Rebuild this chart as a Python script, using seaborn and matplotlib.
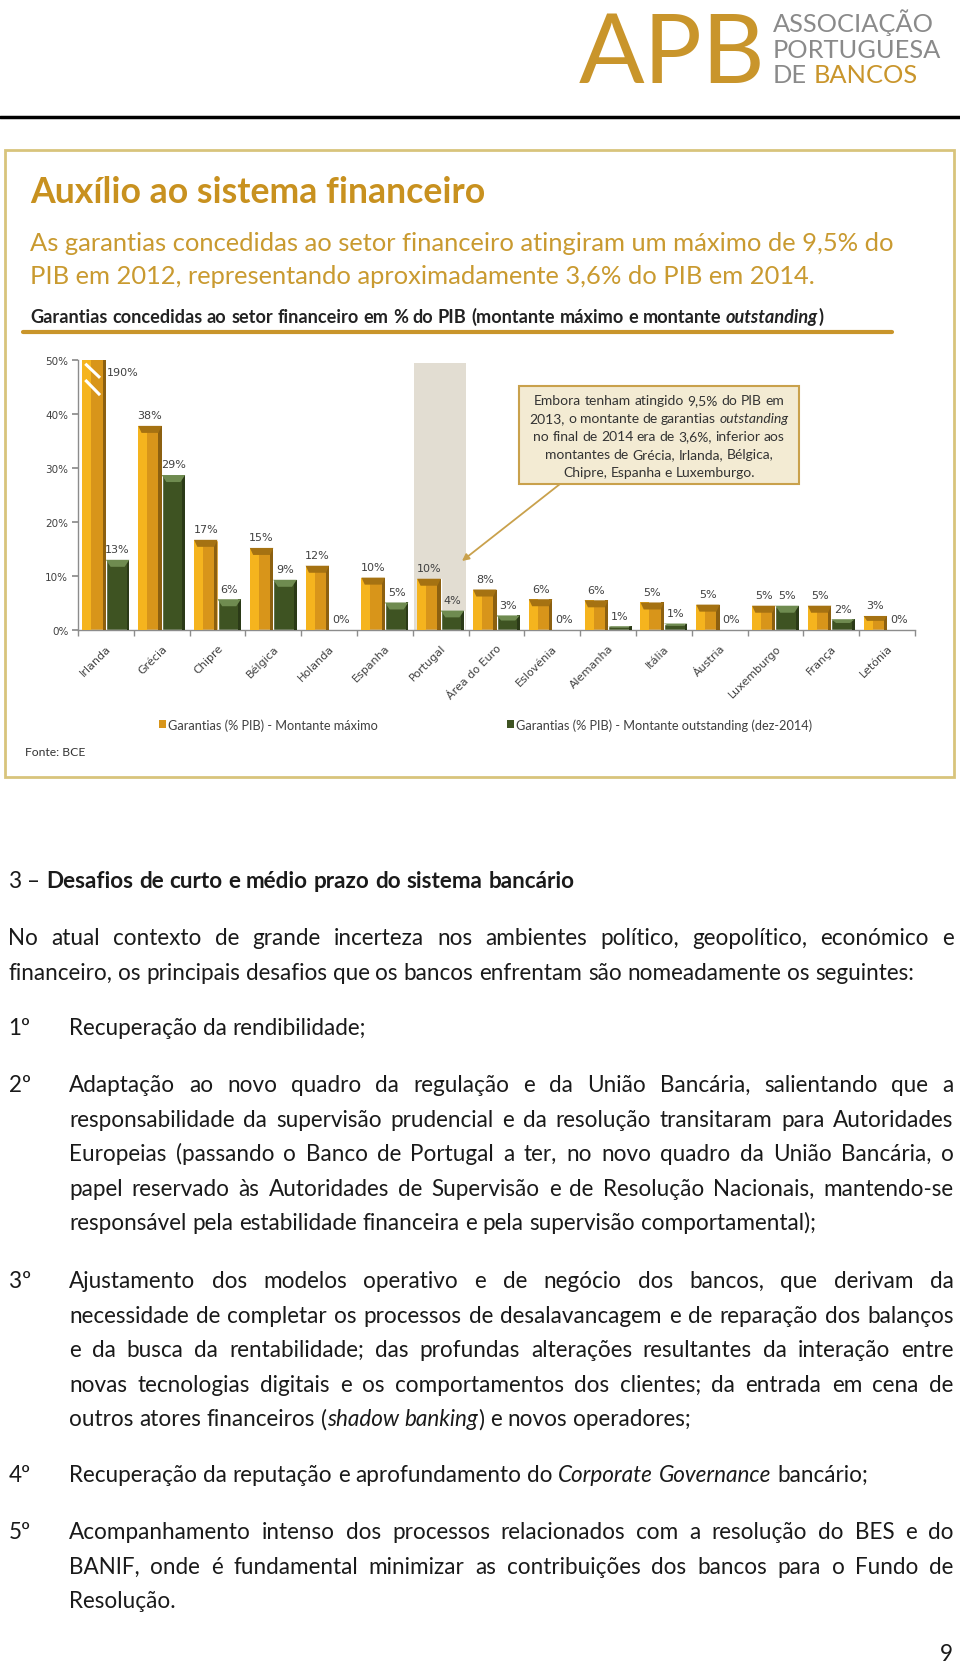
import numpy as np
import pandas as pd
import seaborn as sns
import matplotlib.pyplot as plt
from matplotlib.patches import Rectangle, Polygon

# chart data
paises = ["Irlanda", "Grécia", "Chipre", "Bélgica", "Holanda", "Espanha", "Portugal",
          "Área do Euro", "Eslovénia", "Alemanha", "Itália", "Áustria", "Luxemburgo",
          "França", "Letónia"]
montante_max = [190, 37.8, 16.7, 15.2, 11.9, 9.7, 9.5, 7.5, 5.7, 5.5, 5.1, 4.7, 4.5, 4.5, 2.6]
montante_out = [13.0, 28.7, 5.7, 9.3, 0, 5.1, 3.6, 2.7, 0, 0.7, 1.2, 0, 4.5, 2.0, 0]
series = ["Garantias (% PIB) - Montante máximo",
          "Garantias (% PIB) - Montante outstanding (dez-2014)"]
y_ticks = [0, 10, 20, 30, 40, 50]

GOLD = "#d8951a"
GOLD_LIGHT = "#f5b41e"
GOLD_DARK = "#8c6010"
GREEN = "#3e5322"
GREEN_LIGHT = "#6f8b50"
TXT_GOLD = "#c8911f"
BODY = "Lato"

sns.set_theme(style="white")
plt.rcParams["font.family"] = [BODY, "DejaVu Sans"]

fig = plt.figure(figsize=(9.6, 16.65), dpi=100)
renderer = fig.canvas.get_renderer()

# page overlay in pixel coordinates (y downwards)
page = fig.add_axes([0, 0, 1, 1], zorder=5)
page.set_xlim(0, 960)
page.set_ylim(1665, 0)
page.axis("off")
page.patch.set_alpha(0)


def tokens(parts):
    words = [[]]
    for txt, st in parts:
        for i, p in enumerate(txt.split(" ")):
            if i > 0:
                words.append([])
            if p:
                words[-1].append((p, st))
    return [w for w in words if w]


def width(txt, size, **kw):
    t = page.text(0, 0, txt, size=size, **kw)
    w = t.get_window_extent(renderer).width
    t.remove()
    return w


def put(x, y, s, size, ha="left", **kw):
    # y is the visual middle of the line; place on baseline
    page.text(x, y + 0.36 * size * 100 / 72, s, size=size, ha=ha, va="baseline", **kw)


def line(x, y, parts, size, just=None, align="left", color="#1a1a1a", family=BODY):
    words = tokens(parts)
    ws = [sum(width(p, size, family=family, **st) for p, st in w) for w in words]
    gap = width("a a", size, family=family) - width("aa", size, family=family)
    if just is not None and len(words) > 1:
        gap = (just - sum(ws)) / (len(words) - 1)
    total = sum(ws) + gap * (len(words) - 1)
    if align == "center":
        x = x - total / 2
    elif align == "right":
        x = x - total
    for w, wd in zip(words, ws):
        cx = x
        for p, st in w:
            put(cx, y, p, size, family=family, color=color, **st)
            cx += width(p, size, family=family, **st)
        x += wd + gap


def fit(txt, target, **kw):
    return 20 * target / width(txt, 20, **kw)


# ---- logo ----
page.plot([0, 960], [118, 118], color="black", lw=2.5)
s = fit("APB", 186, family=BODY)
page.text(579, 83, "APB", size=s, color="#c9952b", family=BODY, ha="left", va="baseline")
s = fit("PORTUGUESA", 167, family=BODY)
page.text(773, 32, "ASSOCIAÇÃO", size=s, color="#8a8a8a", ha="left", va="baseline")
page.text(773, 58, "PORTUGUESA", size=s, color="#8a8a8a", ha="left", va="baseline")
page.text(773, 83, "DE", size=s, color="#8a8a8a", ha="left", va="baseline")
page.text(773 + width("DE ", s), 83, "BANCOS", size=s, color="#c9952b", ha="left", va="baseline")

# ---- chart frame and header ----
page.add_patch(Rectangle((5, 151), 949, 627, fill=False, ec="#d8c47c", lw=2))
s = fit("Auxílio ao sistema financeiro", 455, weight="bold", family=BODY)
put(30, 190, "Auxílio ao sistema financeiro", s, weight="bold", color=TXT_GOLD)
l1 = "As garantias concedidas ao setor financeiro atingiram um máximo de 9,5% do"
s = fit(l1, 862, family=BODY)
put(30, 242, l1, s, color="#c99a30")
put(30, 275, "PIB em 2012, representando aproximadamente 3,6% do PIB em 2014.", s, color="#c99a30")
sub = "Garantias concedidas ao setor financeiro em % do PIB (montante máximo e montante outstanding)"
s = fit(sub, 790, weight="bold", family=BODY)
line(30, 316, [("Garantias concedidas ao setor financeiro em % do PIB (montante máximo e montante ",
                {"weight": "bold"}),
               ("outstanding", {"weight": "bold", "style": "italic"}),
               (")", {"weight": "bold"})], s, color="#222222")
page.plot([23, 892], [333, 333], color="#c9952a", lw=3)

# ---- bar chart ----
ax = fig.add_axes([78 / 960, 1 - 631 / 1665, (915 - 78) / 960, (631 - 361) / 1665], zorder=1)
df = pd.DataFrame({
    "pais": paises * 2,
    "valor": montante_max + montante_out,
    "serie": [series[0]] * len(paises) + [series[1]] * len(paises),
})
ax.axvspan(paises.index("Portugal") - 0.48, paises.index("Portugal") + 0.45,
           ymax=0.99, color="#e2ddd2", zorder=0, lw=0)
sns.barplot(data=df, x="pais", y="valor", hue="serie", palette=[GOLD, GREEN],
            saturation=1, width=0.84, gap=0, legend=False, ax=ax, zorder=2)
ax.set_ylim(0, 50)
ax.set_xlim(-0.5, len(paises) - 0.5)
ax.patch.set_alpha(0)

# bevel look on each bar
for cont, light, dark in [(ax.containers[0], GOLD_LIGHT, GOLD_DARK),
                          (ax.containers[1], GREEN_LIGHT, "#2b3a17")]:
    for p in cont:
        x0, w, h = p.get_x(), p.get_width(), min(p.get_height(), 50)
        if h <= 0:
            continue
        c = min(1.3, h * 0.35)
        if light == GOLD_LIGHT:
            ax.add_patch(Rectangle((x0, 0), w * 0.38, h, color=light, lw=0, zorder=3))
            ax.add_patch(Rectangle((x0 + w * 0.86, 0), w * 0.14, h, color=dark, lw=0, zorder=3))
            if h < 50:
                ax.add_patch(Polygon([(x0, h), (x0 + w, h), (x0 + w * 0.86, h - c),
                                      (x0 + w * 0.14, h - c)], color="#a57212", lw=0, zorder=4))
        else:
            ax.add_patch(Rectangle((x0 + w * 0.88, 0), w * 0.12, h, color=dark, lw=0, zorder=3))
            ax.add_patch(Polygon([(x0, h), (x0 + w, h), (x0 + w * 0.8, h - c),
                                  (x0 + w * 0.2, h - c)], color=light, lw=0, zorder=4))

# labels
lab_max = ["" if v > 50 else f"{int(v + 0.5)}%" for v in montante_max]
lab_out = [f"{int(v + 0.5)}%" for v in montante_out]
ax.bar_label(ax.containers[0], labels=lab_max, padding=4, fontsize=8,
             color="#404040", family="DejaVu Sans")
ax.bar_label(ax.containers[1], labels=lab_out, padding=4, fontsize=8,
             color="#404040", family="DejaVu Sans")
p0 = ax.containers[0][0]
ax.annotate(f"{montante_max[0]:.0f}%", (p0.get_x() + p0.get_width(), 47.8),
            xytext=(1, 0), textcoords="offset points", ha="left", va="center",
            fontsize=8, color="#404040", family="DejaVu Sans", zorder=6)
# axis break marks on the clipped bar
x0, w = p0.get_x(), p0.get_width()
for ya, yb in [(49.3, 46.7), (46.3, 43.5)]:
    ax.plot([x0 + w * 0.12, x0 + w * 0.75], [ya, yb], color="white", lw=2.2,
            solid_capstyle="butt", zorder=5)

sns.despine(ax=ax)
for sp in ["left", "bottom"]:
    ax.spines[sp].set_color("#8c8c8c")
    ax.spines[sp].set_linewidth(1)
ax.set_yticks(y_ticks)
ax.set_yticklabels([f"{t}%" for t in y_ticks], family="DejaVu Sans", fontsize=7.5, color="#404040")
ax.tick_params(axis="y", length=4, color="#8c8c8c", pad=3, left=True)
ax.set_xticks(range(len(paises)))
ax.set_xticklabels(paises, rotation=45, ha="right", rotation_mode="anchor",
                   family="DejaVu Sans", fontsize=8, color="#404040")
ax.tick_params(axis="x", which="major", length=0, pad=9)
ax.set_xticks(np.arange(-0.5, len(paises)), minor=True)
ax.tick_params(axis="x", which="minor", length=4, color="#8c8c8c", bottom=True)
ax.set_xlabel("")
ax.set_ylabel("")
ax.grid(False)

# callout
page.add_patch(Rectangle((519, 387), 280, 98, fc="#f3ebd3", ec="#c9a14c", lw=1.5))
cs = fit("Embora tenham atingido 9,5% do PIB em", 250, family=BODY)
callout = [
    [("Embora tenham atingido 9,5% do PIB em", {})],
    [("2013,  o montante de garantias ", {}), ("outstanding", {"style": "italic"})],
    [("no final de 2014  era de 3,6%, inferior aos", {})],
    [("montantes de Grécia, Irlanda, Bélgica,", {})],
    [("Chipre, Espanha e Luxemburgo.", {})],
]
for i, parts in enumerate(callout):
    line(659, 400 + i * 18, parts, cs, align="center", color="#333333")
page.annotate("", xy=(462, 562), xytext=(560, 485),
              arrowprops=dict(arrowstyle="-|>", color="#c9a14c", lw=1.3, mutation_scale=10,
                              shrinkA=0, shrinkB=0))

# legend
ls = fit(series[0], 211, family=BODY)
for xs, col, lab in [(159, GOLD, series[0]), (507, GREEN, series[1])]:
    page.add_patch(Rectangle((xs, 721), 7, 8, color=col, lw=0))
    put(xs + 9, 725, lab, ls, color="#404040")
put(25, 752, "Fonte: BCE", ls * 0.95, color="#333333")

# ---- body text ----
R = 953.6
bs = fit("financeiro, os principais desafios que os bancos enfrentam são nomeadamente os seguintes:",
         909.5, family=BODY)
line(8.5, 880, [("3 – ", {}), ("Desafios de curto e médio prazo do sistema bancário", {"weight": "bold"})], bs)
line(8.5, 937, [("No atual contexto de grande incerteza nos ambientes político, geopolítico, económico e", {})],
     bs, just=R - 8.5)
line(8.5, 971.5, [("financeiro, os principais desafios que os bancos enfrentam são nomeadamente os seguintes:", {})], bs)

items = [
    ("1º", 1027, [
        [("Recuperação da rendibilidade;", {})],
    ]),
    ("2º", 1084, [
        [("Adaptação ao novo quadro da regulação e da União Bancária, salientando que a", {})],
        [("responsabilidade da supervisão prudencial e da resolução transitaram para Autoridades", {})],
        [("Europeias (passando o Banco de Portugal a ter, no novo quadro da União Bancária, o", {})],
        [("papel reservado às Autoridades de Supervisão e de Resolução Nacionais, mantendo-se", {})],
        [("responsável pela estabilidade financeira e pela supervisão comportamental);", {})],
    ]),
    ("3º", 1280, [
        [("Ajustamento dos modelos operativo e de negócio dos bancos, que derivam da", {})],
        [("necessidade de completar os processos de desalavancagem e de reparação dos balanços", {})],
        [("e da busca da rentabilidade; das profundas alterações resultantes da interação entre", {})],
        [("novas tecnologias digitais e os comportamentos dos clientes; da entrada em cena de", {})],
        [("outros atores financeiros (", {}), ("shadow banking", {"style": "italic"}),
         (") e novos operadores;", {})],
    ]),
    ("4º", 1474, [
        [("Recuperação da reputação e aprofundamento do ", {}),
         ("Corporate Governance", {"style": "italic"}), (" bancário;", {})],
    ]),
    ("5º", 1531, [
        [("Acompanhamento intenso dos processos relacionados com a resolução do BES e do", {})],
        [("BANIF, onde é fundamental minimizar as contribuições dos bancos para o Fundo de", {})],
        [("Resolução.", {})],
    ]),
]
for num, y0, lines in items:
    put(8.5, y0, num, bs, color="#1a1a1a")
    for i, parts in enumerate(lines):
        last = i == len(lines) - 1
        line(69, y0 + i * 34.5, parts, bs, just=None if last else R - 69)

put(953, 1653, "9", bs, ha="right", color="#1a1a1a")

fig.savefig("out.png", dpi=100, facecolor="white")
